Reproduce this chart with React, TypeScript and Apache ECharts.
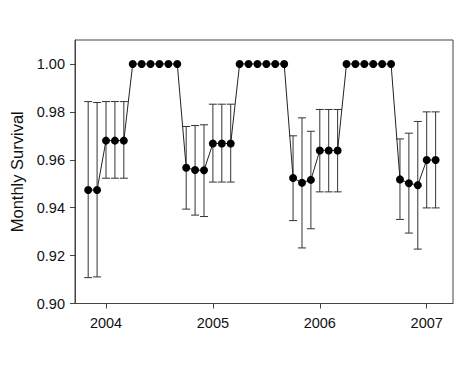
import React, { useEffect, useRef } from "react";
import * as echarts from "echarts";

const months: string[] = [
  "2003-11", "2003-12",
  "2004-01", "2004-02", "2004-03", "2004-04", "2004-05", "2004-06", "2004-07", "2004-08", "2004-09", "2004-10", "2004-11", "2004-12",
  "2005-01", "2005-02", "2005-03", "2005-04", "2005-05", "2005-06", "2005-07", "2005-08", "2005-09", "2005-10", "2005-11", "2005-12",
  "2006-01", "2006-02", "2006-03", "2006-04", "2006-05", "2006-06", "2006-07", "2006-08", "2006-09", "2006-10", "2006-11", "2006-12",
  "2007-01", "2007-02",
];

const survival: number[] = [
  0.9474, 0.9474,
  0.968, 0.968, 0.968, 1, 1, 1, 1, 1, 1, 0.9567, 0.9557, 0.9556,
  0.9668, 0.9668, 0.9668, 1, 1, 1, 1, 1, 1, 0.9524, 0.9504, 0.9516,
  0.9639, 0.9639, 0.9639, 1, 1, 1, 1, 1, 1, 0.9518, 0.9502, 0.9494,
  0.9599, 0.9599,
];

const lower: (number | null)[] = [
  0.9108, 0.9111,
  0.9523, 0.9523, 0.9523, null, null, null, null, null, null, 0.9394, 0.9369, 0.9363,
  0.9507, 0.9507, 0.9507, null, null, null, null, null, null, 0.9346, 0.9232, 0.9312,
  0.9466, 0.9466, 0.9466, null, null, null, null, null, null, 0.9351, 0.9294, 0.9227,
  0.9399, 0.9399,
];

const upper: (number | null)[] = [
  0.9843, 0.9839,
  0.9843, 0.9843, 0.9843, null, null, null, null, null, null, 0.9739, 0.9743, 0.9746,
  0.9832, 0.9832, 0.9832, null, null, null, null, null, null, 0.97, 0.9775, 0.9719,
  0.981, 0.981, 0.981, null, null, null, null, null, null, 0.9687, 0.9711, 0.976,
  0.98, 0.98,
];

const yTicks: number[] = [0.9, 0.92, 0.94, 0.96, 0.98, 1.0];
const xTicks: number[] = [2004, 2005, 2006, 2007];

function toYear(m: string): number {
  const [y, mo] = m.split("-").map(Number);
  return y + (mo - 1) / 12;
}

export default function App() {
  const ref = useRef<HTMLDivElement>(null);
  useEffect(() => {
    if (!ref.current) return;
    const chart = echarts.init(ref.current, null, { renderer: "svg" });
    const xs = months.map(toYear);
    const lineData = xs.map((x, i) => [x, survival[i]]);
    const errData = xs
      .map((x, i) => [x, lower[i], upper[i]])
      .filter((d) => d[1] != null && d[2] != null);
    const font = "'Liberation Sans', Arial, sans-serif";
    const axisColor = "#444";
    chart.setOption({
      animation: false,
      backgroundColor: "#fff",
      grid: {
        left: 75,
        top: 40,
        right: 21,
        bottom: 63.5,
        show: true,
        borderColor: axisColor,
        borderWidth: 1,
        backgroundColor: "transparent",
      },
      xAxis: {
        type: "value",
        min: 2003.71,
        max: 2007.246,
        splitLine: { show: false },
        axisLine: { show: true, lineStyle: { color: axisColor, width: 1 } },
        axisTick: {
          show: true,
          length: 5,
          inside: false,
          customValues: xTicks,
          lineStyle: { color: axisColor },
        },
        axisLabel: {
          customValues: xTicks,
          margin: 12,
          color: "#111",
          fontSize: 14.5,
          fontFamily: font,
          formatter: (v: number) => String(Math.round(v)),
        },
      },
      yAxis: {
        type: "value",
        min: 0.9,
        max: 1.01,
        name: "Monthly Survival",
        nameLocation: "middle",
        nameGap: 50,
        nameTextStyle: { fontSize: 16.5, color: "#111", fontFamily: font },
        splitLine: { show: false },
        axisLine: { show: true, lineStyle: { color: axisColor, width: 1 } },
        axisTick: {
          show: true,
          length: 5,
          inside: false,
          customValues: yTicks,
          lineStyle: { color: axisColor },
        },
        axisLabel: {
          customValues: yTicks,
          margin: 10,
          color: "#111",
          fontSize: 14.5,
          fontFamily: font,
          formatter: (v: number) => v.toFixed(2),
        },
      },
      series: [
        {
          type: "custom",
          z: 1,
          data: errData,
          renderItem: (params: any, api: any) => {
            const x = api.value(0);
            const lo = api.coord([x, api.value(1)]);
            const hi = api.coord([x, api.value(2)]);
            const hw = 4;
            const style = { stroke: "#333", lineWidth: 1 };
            return {
              type: "group",
              children: [
                { type: "line", shape: { x1: lo[0], y1: lo[1], x2: hi[0], y2: hi[1] }, style },
                { type: "line", shape: { x1: lo[0] - hw, y1: lo[1], x2: lo[0] + hw, y2: lo[1] }, style },
                { type: "line", shape: { x1: hi[0] - hw, y1: hi[1], x2: hi[0] + hw, y2: hi[1] }, style },
              ],
            };
          },
        },
        {
          type: "line",
          z: 3,
          data: lineData,
          symbol: "circle",
          symbolSize: 8,
          itemStyle: { color: "#000" },
          lineStyle: { color: "#222", width: 1 },
        },
      ],
    });
    return () => chart.dispose();
  }, []);
  return (
    <div
      ref={ref}
      style={{ position: "fixed", left: 0, top: 0, width: 474, height: 367, background: "#fff" }}
    />
  );
}
